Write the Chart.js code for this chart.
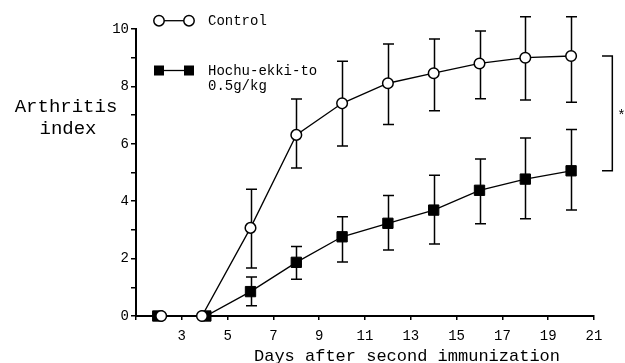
<!DOCTYPE html>
<html><head><meta charset="utf-8">
<script src="https://cdn.jsdelivr.net/npm/chart.js@4/dist/chart.umd.min.js"></script>
<style>html,body{margin:0;padding:0;background:#fff}#wrap{width:625px;height:363px;position:relative}</style>
</head><body><div id="wrap"><canvas id="c" width="625" height="363"></canvas></div>
<script>
// ---- data ----
const seriesNames = ["Control", "Hochu-ekki-to", "0.5g/kg"];
const controlDays = [2.1, 3.88, 6, 8, 10, 12, 14, 16, 18, 20];
const controlMean = [0, 0, 3.07, 6.31, 7.41, 8.11, 8.46, 8.80, 9.00, 9.06];
const controlUpper = [null, null, 4.42, 7.56, 8.88, 9.48, 9.65, 9.93, 10.43, 10.43];
const controlLower = [null, null, 1.67, 5.16, 5.92, 6.67, 7.15, 7.57, 7.53, 7.45];
const hochuDays = [1.95, 4.05, 6, 8, 10, 12, 14, 16, 18, 20];
const hochuMean = [0, 0, 0.85, 1.87, 2.76, 3.23, 3.69, 4.38, 4.77, 5.06];
const hochuUpper = [null, null, 1.36, 2.42, 3.46, 4.20, 4.90, 5.47, 6.20, 6.50];
const hochuLower = [null, null, 0.36, 1.28, 1.88, 2.30, 2.51, 3.21, 3.39, 3.69];
const xTickLabels = [3, 5, 7, 9, 11, 13, 15, 17, 19, 21];
const yTickLabels = [0, 2, 4, 6, 8, 10];
const xTitle = "Days after second immunization";
const yTitle = ["Arthritis", "index"];
const sigMark = "*";

const FONT = '"Liberation Mono", "DejaVu Sans Mono", monospace';

const errorBars = {
  id: 'errorBars',
  beforeDatasetsDraw(chart) {
    const ctx = chart.ctx, xs = chart.scales.x, ys = chart.scales.y;
    const sets = [[controlDays, controlUpper, controlLower], [hochuDays, hochuUpper, hochuLower]];
    ctx.save();
    ctx.strokeStyle = '#000';
    ctx.lineWidth = 1.5;
    sets.forEach(([xd, up, lo]) => {
      xd.forEach((d, i) => {
        if (up[i] == null) return;
        const px = Math.round(xs.getPixelForValue(d)) + 0.5;
        const pu = ys.getPixelForValue(up[i]);
        const pl = ys.getPixelForValue(lo[i]);
        ctx.beginPath();
        ctx.moveTo(px, pu); ctx.lineTo(px, pl);
        ctx.moveTo(px - 5.5, pu); ctx.lineTo(px + 5.5, pu);
        ctx.moveTo(px - 5.5, pl); ctx.lineTo(px + 5.5, pl);
        ctx.stroke();
      });
    });
    ctx.restore();
  }
};

const decor = {
  id: 'decor',
  afterDraw(chart) {
    const ctx = chart.ctx, a = chart.chartArea, xs = chart.scales.x, ys = chart.scales.y;
    ctx.save();
    ctx.fillStyle = '#000';
    ctx.strokeStyle = '#000';
    // legend
    const lx1 = a.left + 23, lx2 = a.left + 53, tx = a.left + 72;
    const y1 = a.top - 8.3, y2 = a.top + 41.5;
    ctx.lineWidth = 1.3;
    ctx.beginPath(); ctx.moveTo(lx1, y1); ctx.lineTo(lx2, y1); ctx.stroke();
    ctx.beginPath(); ctx.moveTo(lx1, y2); ctx.lineTo(lx2, y2); ctx.stroke();
    ctx.lineWidth = 1.5;
    [lx1, lx2].forEach(x => {
      ctx.beginPath(); ctx.arc(x, y1, 5.2, 0, Math.PI * 2);
      ctx.fillStyle = '#fff'; ctx.fill(); ctx.stroke();
      ctx.fillStyle = '#000';
      ctx.fillRect(x - 5, y2 - 5, 10, 10);
    });
    ctx.font = '14px ' + FONT;
    ctx.textAlign = 'left';
    ctx.textBaseline = 'alphabetic';
    ctx.fillText(seriesNames[0], tx, y1 + 4.5);
    ctx.fillText(seriesNames[1], tx, y2 + 4.5);
    ctx.fillText(seriesNames[2], tx, y2 + 19.5);
    // axis titles
    ctx.font = '17px ' + FONT;
    ctx.textAlign = 'center';
    ctx.fillText(xTitle, a.left + 271, 360.5);
    ctx.font = '19px ' + FONT;
    ctx.fillText(yTitle[0], 66, 111.5);
    ctx.fillText(yTitle[1], 68, 133.5);
    // significance bracket
    const last = controlMean.length - 1;
    const bx = xs.getPixelForValue(21.8), cx = xs.getPixelForValue(21.35);
    const t = ys.getPixelForValue(controlMean[last]);
    const b = ys.getPixelForValue(hochuMean[last]);
    ctx.lineWidth = 1.5;
    ctx.beginPath();
    ctx.moveTo(cx, t); ctx.lineTo(bx, t); ctx.lineTo(bx, b); ctx.lineTo(cx, b);
    ctx.stroke();
    ctx.font = '14px ' + FONT;
    ctx.textBaseline = 'middle';
    ctx.fillText(sigMark, xs.getPixelForValue(22.2), (t + b) / 2 + 3);
    ctx.restore();
  }
};

new Chart(document.getElementById('c'), {
  type: 'line',
  data: {
    datasets: [
      {
        label: seriesNames[0],
        data: controlDays.map((x, i) => ({ x, y: controlMean[i] })),
        borderColor: '#000', borderWidth: 1.3,
        pointStyle: 'circle', pointRadius: 5.3,
        pointBackgroundColor: '#fff', pointBorderColor: '#000', pointBorderWidth: 1.5,
        tension: 0, clip: false
      },
      {
        label: seriesNames[1],
        data: hochuDays.map((x, i) => ({ x, y: hochuMean[i] })),
        borderColor: '#000', borderWidth: 1.3,
        pointStyle: 'rect', pointRadius: 7.3,
        pointBackgroundColor: '#000', pointBorderColor: '#000', pointBorderWidth: 1,
        tension: 0, clip: false
      }
    ]
  },
  options: {
    responsive: false,
    animation: false,
    devicePixelRatio: 1,
    layout: { padding: { left: 0, right: 31, top: 29, bottom: 0 } },
    plugins: { legend: { display: false }, tooltip: { enabled: false } },
    scales: {
      x: {
        type: 'linear', min: 1, max: 21,
        afterFit: s => { s.height = 47; },
        afterBuildTicks: s => { s.ticks = [1].concat(xTickLabels).map(v => ({ value: v })); },
        ticks: {
          color: '#000', font: { family: FONT, size: 14 }, padding: 8,
          maxRotation: 0, autoSkip: false,
          callback: v => (xTickLabels.includes(v) ? String(v) : '')
        },
        grid: { display: true, drawOnChartArea: false, drawTicks: true, tickLength: 4, color: '#000', lineWidth: 1.5 },
        border: { display: true, color: '#000', width: 2 }
      },
      y: {
        min: 0, max: 10,
        afterFit: s => { s.width = 136; },
        afterBuildTicks: s => { s.ticks = [0,1,2,3,4,5,6,7,8,9,10].map(v => ({ value: v })); },
        ticks: {
          color: '#000', font: { family: FONT, size: 14 }, padding: 2, autoSkip: false,
          callback: v => (yTickLabels.includes(v) ? String(v) : '')
        },
        grid: { display: true, drawOnChartArea: false, drawTicks: true, tickLength: 5, color: '#000', lineWidth: 1.5 },
        border: { display: true, color: '#000', width: 2 }
      }
    }
  },
  plugins: [errorBars, decor]
});
</script>
</body></html>
